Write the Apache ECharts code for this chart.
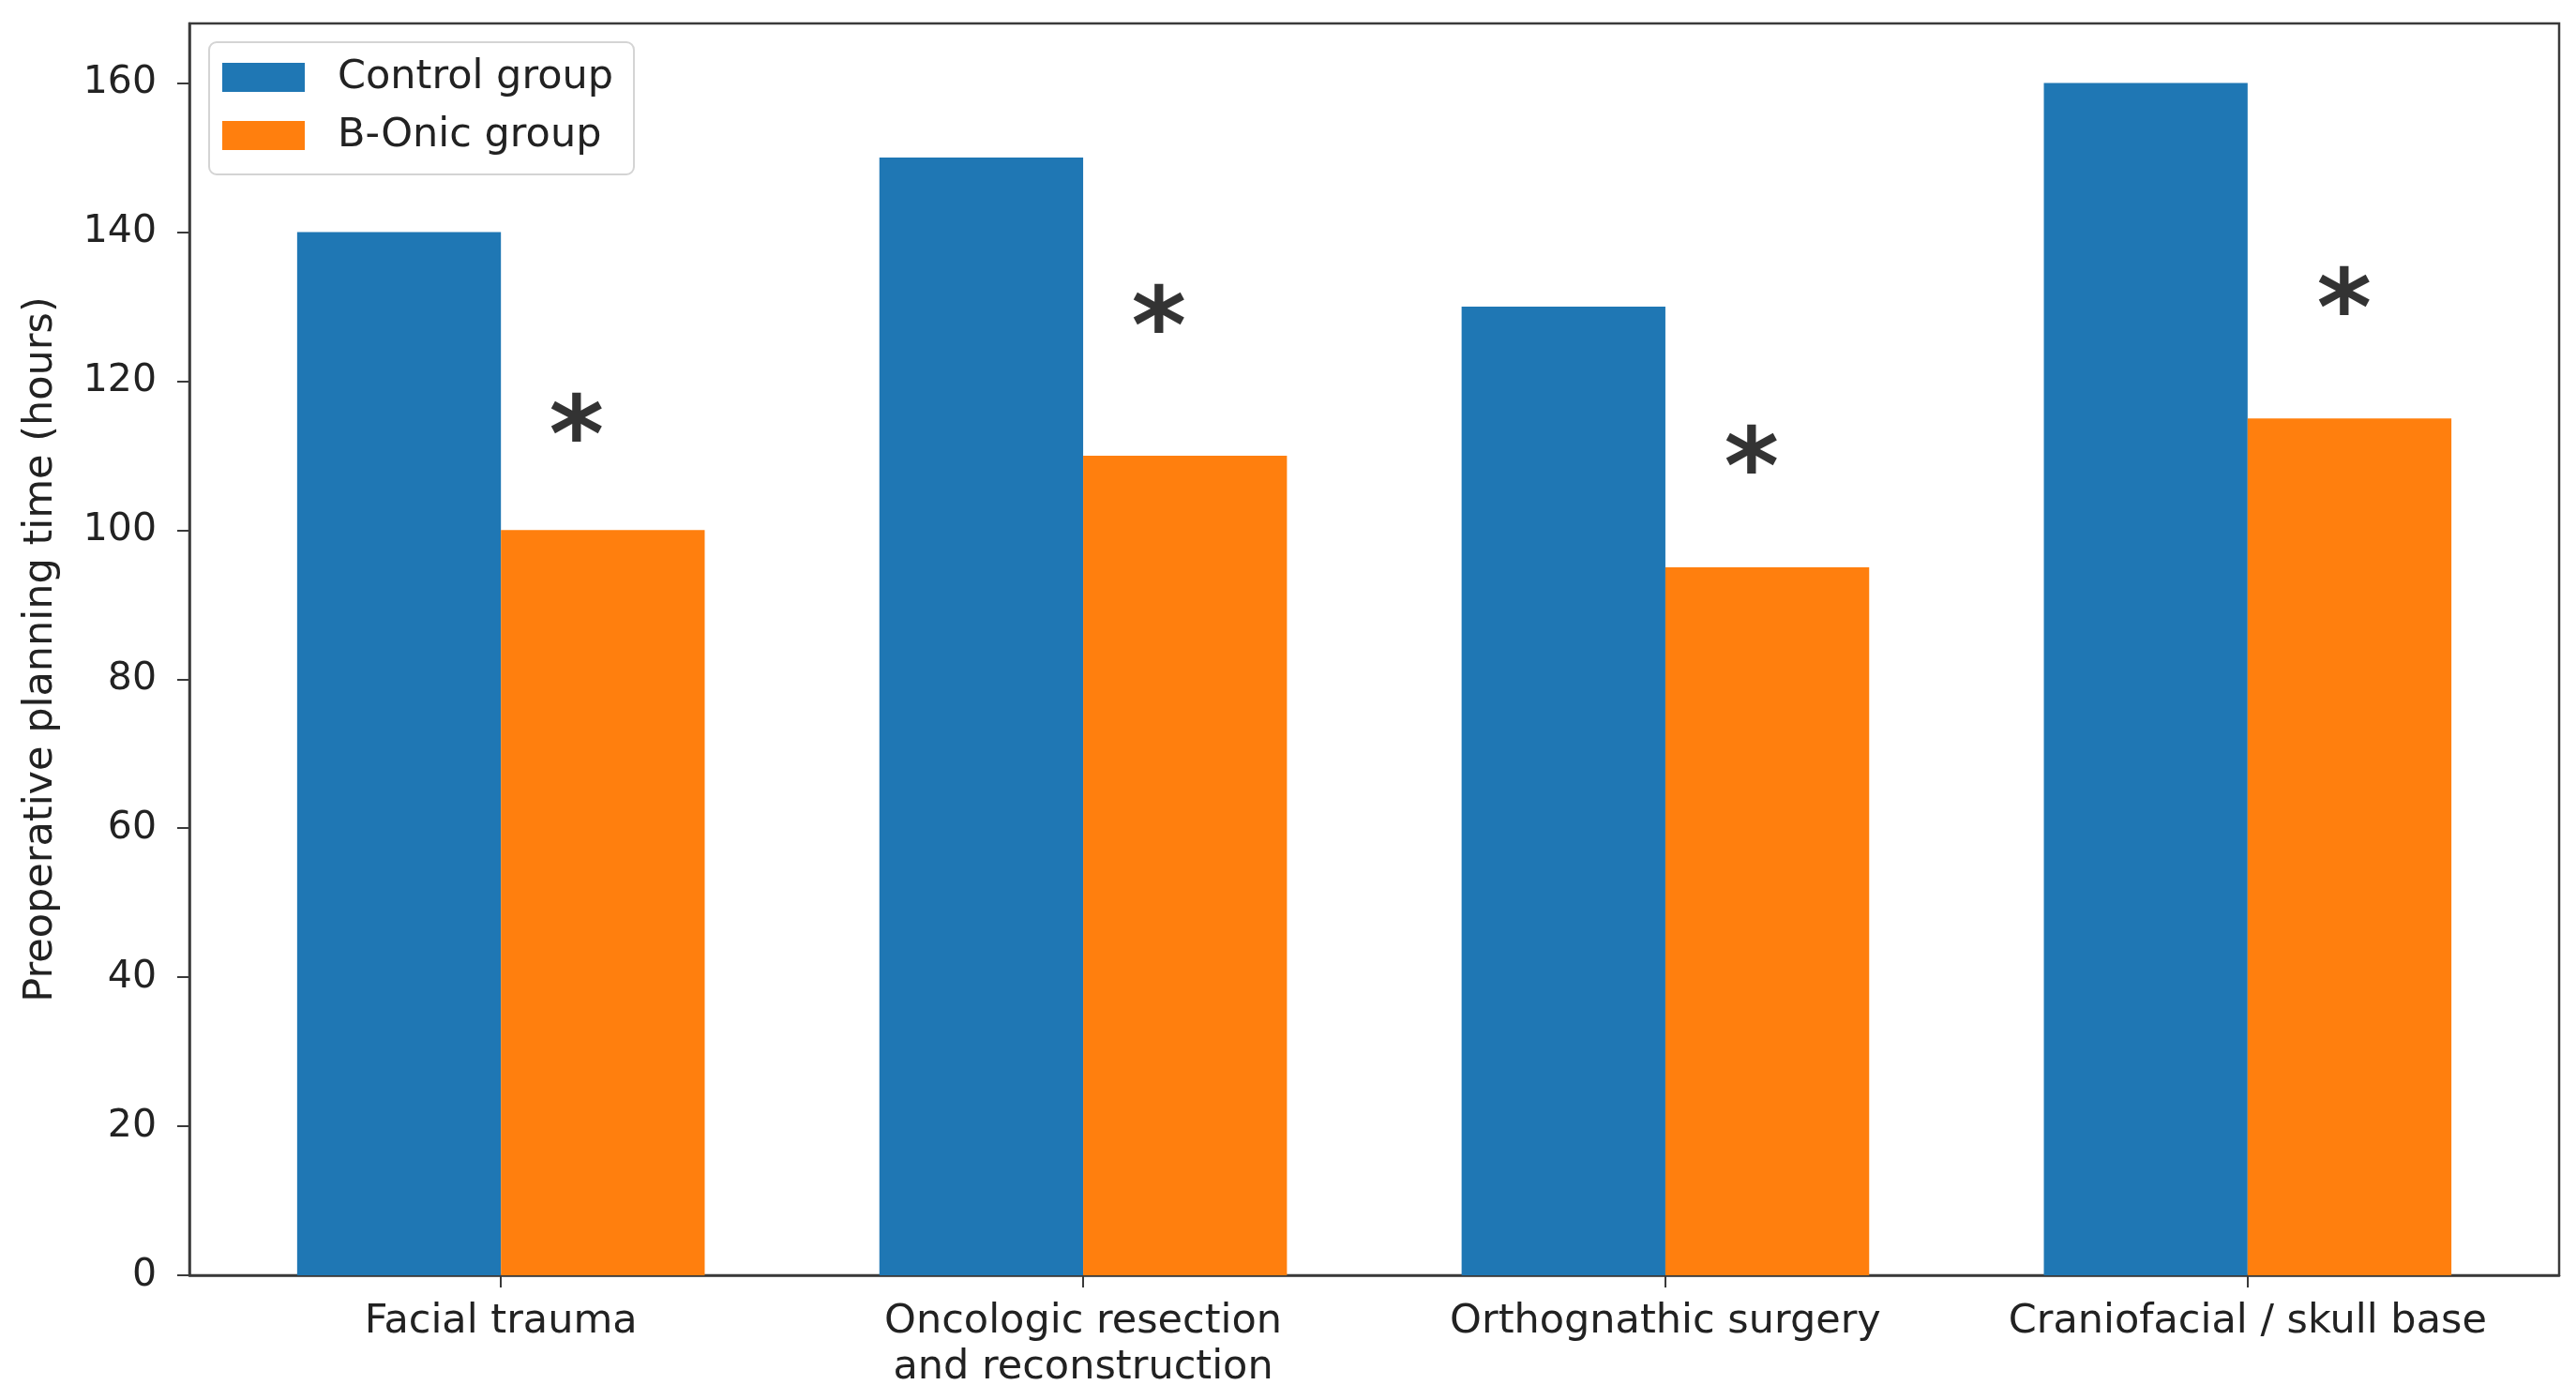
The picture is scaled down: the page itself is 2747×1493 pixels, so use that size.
<!DOCTYPE html>
<html><head><meta charset="utf-8">
<script src="https://cdn.jsdelivr.net/npm/echarts@6/dist/echarts.min.js"></script>
<style>html,body{margin:0;padding:0;background:#fff}#c{width:2747px;height:1493px}</style>
</head><body><div id="c"></div>
<script>
const categories = ['Facial trauma', 'Oncologic resection\nand reconstruction', 'Orthognathic surgery', 'Craniofacial / skull base'];
const categoryPositions = [0, 1, 2, 3];
const controlGroup = [140, 150, 130, 160];
const bOnicGroup = [100, 110, 95, 115];
const sigX = [0.130, 1.130, 2.148, 3.166];
const sigY = [114.6, 129.2, 110.4, 131.7];
const yTicks = [0, 20, 40, 60, 80, 100, 120, 140, 160];

const FONT = 'DejaVu Sans';
const chart = echarts.init(document.getElementById('c'), null, {renderer: 'canvas'});
chart.setOption({
  animation: false,
  backgroundColor: '#fff',
  textStyle: {fontFamily: FONT},
  grid: {left: 202, right: 18, top: 25, bottom: 133, show: true, borderColor: '#3a3a3a', borderWidth: 2.5, outerBoundsMode: 'none'},
  legend: {
    left: 223, top: 45, orient: 'vertical',
    data: ['Control group', 'B-Onic group'],
    itemWidth: 88, itemHeight: 31, itemGap: 19,
    icon: 'rect',
    padding: [16, 22, 20, 14],
    borderColor: '#d4d4d4', borderWidth: 2, borderRadius: 8,
    backgroundColor: 'rgba(255,255,255,0.8)',
    textStyle: {fontFamily: FONT, fontSize: 43, color: '#222', lineHeight: 38, padding: [0, 0, 0, 30]}
  },
  xAxis: {
    type: 'value', min: -0.535, max: 3.535,
    splitLine: {show: false},
    axisLine: {show: true, lineStyle: {color: '#3a3a3a', width: 2.5}},
    axisTick: {show: true, length: 13, lineStyle: {color: '#3a3a3a', width: 2}, customValues: categoryPositions},
    axisLabel: {customValues: categoryPositions, formatter: v => categories[Math.round(v)] || '', fontFamily: FONT, fontSize: 43, color: '#222', lineHeight: 49, margin: 25}
  },
  yAxis: {
    type: 'value', min: 0, max: 168,
    name: 'Preoperative planning time (hours)', nameLocation: 'middle', nameGap: 137, nameRotate: 90,
    nameTextStyle: {fontFamily: FONT, fontSize: 43, color: '#222'},
    splitLine: {show: false},
    axisLine: {show: true, onZero: false, lineStyle: {color: '#3a3a3a', width: 2.5}},
    axisTick: {show: true, length: 13, lineStyle: {color: '#3a3a3a', width: 2}, customValues: yTicks},
    axisLabel: {customValues: yTicks, fontFamily: FONT, fontSize: 41, color: '#222', margin: 35}
  },
  series: [
    {name: 'Control group', type: 'bar', data: controlGroup.map((v, i) => [categoryPositions[i], v]),
     barWidth: '35%', barGap: '0%', itemStyle: {color: '#1f77b4'}},
    {name: 'B-Onic group', type: 'bar', data: bOnicGroup.map((v, i) => [categoryPositions[i], v]),
     barWidth: '35%', barGap: '0%', itemStyle: {color: '#ff7f0e'}},
    {name: 'sig', type: 'scatter', symbolSize: 1, itemStyle: {color: 'rgba(0,0,0,0)'},
     data: sigX.map((x, i) => [x, sigY[i]]),
     label: {show: true, position: 'inside', formatter: '*', fontFamily: FONT, fontSize: 112, fontWeight: 'bold', color: '#000', offset: [0, 24]}}
  ]
});
</script></body></html>
